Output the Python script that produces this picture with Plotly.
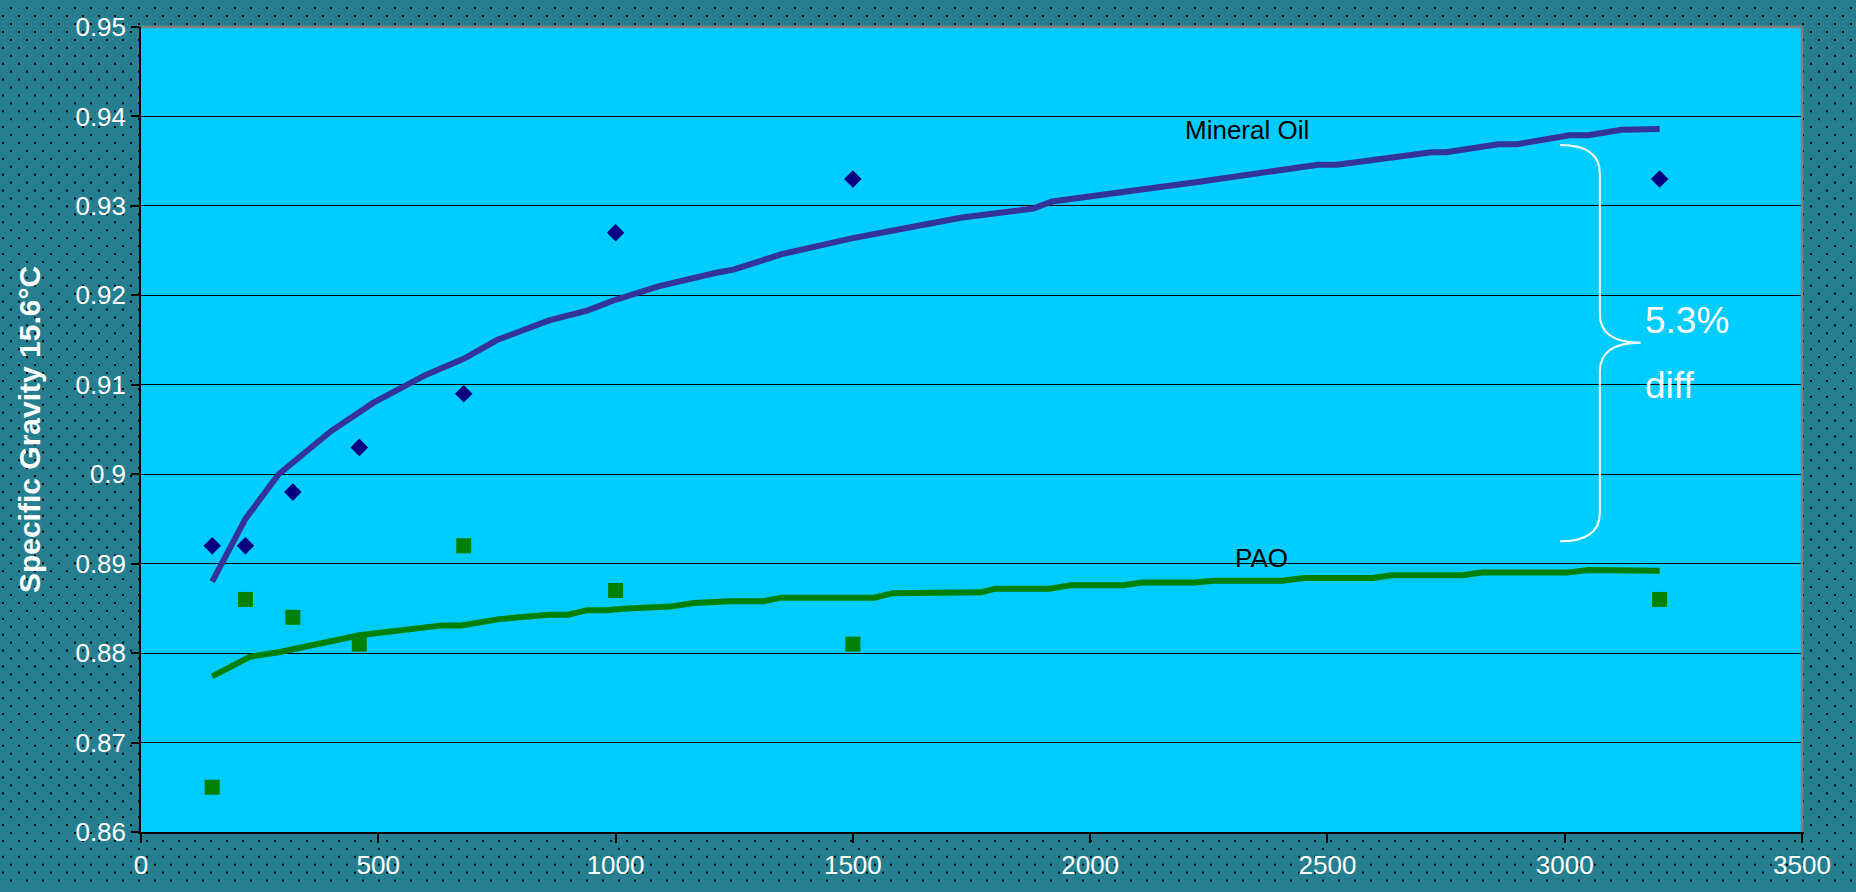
import base64
import plotly.graph_objects as go

# ISO viscosity grades and measured specific gravity at 15.6 °C
iso_grade = [150, 220, 320, 460, 680, 1000, 1500, 3200]
mineral_sg = [0.892, 0.892, 0.898, 0.903, 0.909, 0.927, 0.933, 0.933]
pao_sg = [0.865, 0.886, 0.884, 0.881, 0.892, 0.887, 0.881, 0.886]

# Trend curves (logarithmic fits) as drawn
mineral_fit_x = [150, 220, 290, 400, 490, 600, 680, 750, 860, 940,
                 1000, 1090, 1210, 1250, 1350, 1430, 1500, 1610, 1730, 1880,
                 1920, 2230, 2480, 2520, 2720, 2750, 2860, 2900, 3010, 3050,
                 3120, 3200]
mineral_fit_y = [0.888, 0.895, 0.900, 0.9048, 0.908, 0.9111, 0.9129, 0.915, 0.9172, 0.9183,
                 0.9195, 0.9210, 0.9225, 0.9229, 0.9246, 0.9256, 0.9264, 0.9275, 0.9287, 0.9297,
                 0.9305, 0.9327, 0.9346, 0.9346, 0.9360, 0.9360, 0.9369, 0.9369, 0.9379, 0.9379,
                 0.9385, 0.9386]

pao_fit_x = [150, 230, 290, 340, 370, 415, 460, 635, 675, 755,
             860, 900, 940, 980, 1025, 1115, 1165, 1240, 1310, 1350,
             1430, 1545, 1585, 1705, 1770, 1800, 1915, 1960, 2070, 2110,
             2220, 2260, 2405, 2450, 2595, 2635, 2785, 2825, 3005, 3050,
             3200]
pao_fit_y = [0.8774, 0.8796, 0.8801, 0.8807, 0.8809, 0.8816, 0.8820, 0.8831, 0.8831, 0.8838,
             0.8843, 0.8843, 0.8848, 0.8848, 0.8850, 0.8852, 0.8856, 0.8858, 0.8858, 0.8862,
             0.8862, 0.8862, 0.8867, 0.8868, 0.8868, 0.8872, 0.8872, 0.8876, 0.8876, 0.8879,
             0.8879, 0.8881, 0.8881, 0.8884, 0.8884, 0.8887, 0.8887, 0.8890, 0.8890, 0.8893,
             0.8892]

W, H = 1856, 892
ML, MR, MT, MB = 141, 54, 24, 56
PW, PH = W - ML - MR, H - MT - MB

TEAL = "#267F90"
CYAN = "#00CCFF"
FONT = "Arial, Liberation Sans, sans-serif"

# Dotted slide backdrop with the plot window cut out in cyan
svg = (
    f'<svg xmlns="http://www.w3.org/2000/svg" width="{W}" height="{H}">'
    '<defs><pattern id="dots" width="16" height="16" patternUnits="userSpaceOnUse">'
    f'<rect width="16" height="16" fill="{TEAL}"/>'
    '<rect x="2" y="12" width="2" height="2" fill="#000"/>'
    '<rect x="10" y="4" width="2" height="2" fill="#000"/>'
    '</pattern></defs>'
    f'<rect width="{W}" height="{H}" fill="url(#dots)"/>'
    f'<rect x="{ML}" y="{MT}" width="{PW}" height="{PH}" fill="{CYAN}"/>'
    '</svg>'
)
bg_uri = "data:image/svg+xml;base64," + base64.b64encode(svg.encode()).decode()

fig = go.Figure()

fig.add_trace(go.Scatter(
    x=mineral_fit_x, y=mineral_fit_y, mode="lines",
    line=dict(color="#333399", width=6), hoverinfo="skip", showlegend=False))
fig.add_trace(go.Scatter(
    x=pao_fit_x, y=pao_fit_y, mode="lines",
    line=dict(color="#008000", width=6), hoverinfo="skip", showlegend=False))
fig.add_trace(go.Scatter(
    x=iso_grade, y=mineral_sg, mode="markers", name="Mineral Oil",
    marker=dict(symbol="diamond", size=13.5, color="#000080", line=dict(width=0)),
    showlegend=False))
fig.add_trace(go.Scatter(
    x=iso_grade, y=pao_sg, mode="markers", name="PAO",
    marker=dict(symbol="square", size=15, color="#008000", line=dict(width=0)),
    showlegend=False))

# Curly brace marking the gap between the two curves
bx_end, bx_stem, bx_tip = 2990, 3074, 3160
by_top, by_tip, by_bot, arc = 0.9368, 0.9147, 0.8925, 0.0032
brace = (
    f"M {bx_end},{by_top} Q {bx_stem},{by_top} {bx_stem},{by_top - arc} "
    f"L {bx_stem},{by_tip + arc} Q {bx_stem},{by_tip} {bx_tip},{by_tip} "
    f"Q {bx_stem},{by_tip} {bx_stem},{by_tip - arc} "
    f"L {bx_stem},{by_bot + arc} Q {bx_stem},{by_bot} {bx_end},{by_bot}"
)

fig.update_layout(
    width=W, height=H, autosize=False,
    margin=dict(l=ML, r=MR, t=MT, b=MB, pad=0),
    paper_bgcolor=TEAL, plot_bgcolor=CYAN,
    font=dict(family=FONT, color="white", size=26),
    images=[dict(source=bg_uri, xref="paper", yref="paper",
                 x=-ML / PW, y=1 + MT / PH, sizex=W / PW, sizey=H / PH,
                 xanchor="left", yanchor="top", sizing="stretch", layer="below")],
    shapes=[
        dict(type="path", path=brace, xref="x", yref="y",
             line=dict(color="white", width=2)),
        dict(type="line", xref="paper", yref="paper", x0=0, x1=1, y0=1, y1=1,
             line=dict(color="#808080", width=2.5)),
        dict(type="line", xref="paper", yref="paper", x0=1, x1=1, y0=0, y1=1,
             line=dict(color="#808080", width=2.5)),
    ],
    annotations=[
        dict(text="Mineral Oil", x=2196, y=0.9385, xref="x", yref="y",
             xanchor="left", yanchor="middle", showarrow=False,
             font=dict(family=FONT, size=26, color="black")),
        dict(text="PAO", x=2302, y=0.8906, xref="x", yref="y",
             xanchor="left", yanchor="middle", showarrow=False,
             font=dict(family=FONT, size=26, color="black")),
        dict(text="5.3%", x=3165, y=0.9172, xref="x", yref="y",
             xanchor="left", yanchor="middle", showarrow=False,
             font=dict(family=FONT, size=37, color="white")),
        dict(text="diff", x=3165, y=0.9099, xref="x", yref="y",
             xanchor="left", yanchor="middle", showarrow=False,
             font=dict(family=FONT, size=37, color="white")),
    ],
)

fig.update_xaxes(
    range=[0, 3500], tick0=0, dtick=500, showgrid=False, zeroline=False,
    showline=True, linecolor="black", linewidth=1.5,
    ticks="outside", ticklen=9, tickcolor="black", tickwidth=1.5,
    tickfont=dict(family=FONT, size=26, color="white"),
)
fig.update_yaxes(
    range=[0.86, 0.95], tick0=0.86, dtick=0.01, showgrid=True,
    gridcolor="black", gridwidth=1, zeroline=False,
    showline=True, linecolor="black", linewidth=1.5,
    ticks="outside", ticklen=8, tickcolor="black", tickwidth=1.5,
    tickfont=dict(family=FONT, size=26, color="white"),
    title=dict(text="<b>Specific Gravity 15.6°C</b>", standoff=26,
               font=dict(family=FONT, size=30, color="white")),
)

fig.write_html("out.html")
